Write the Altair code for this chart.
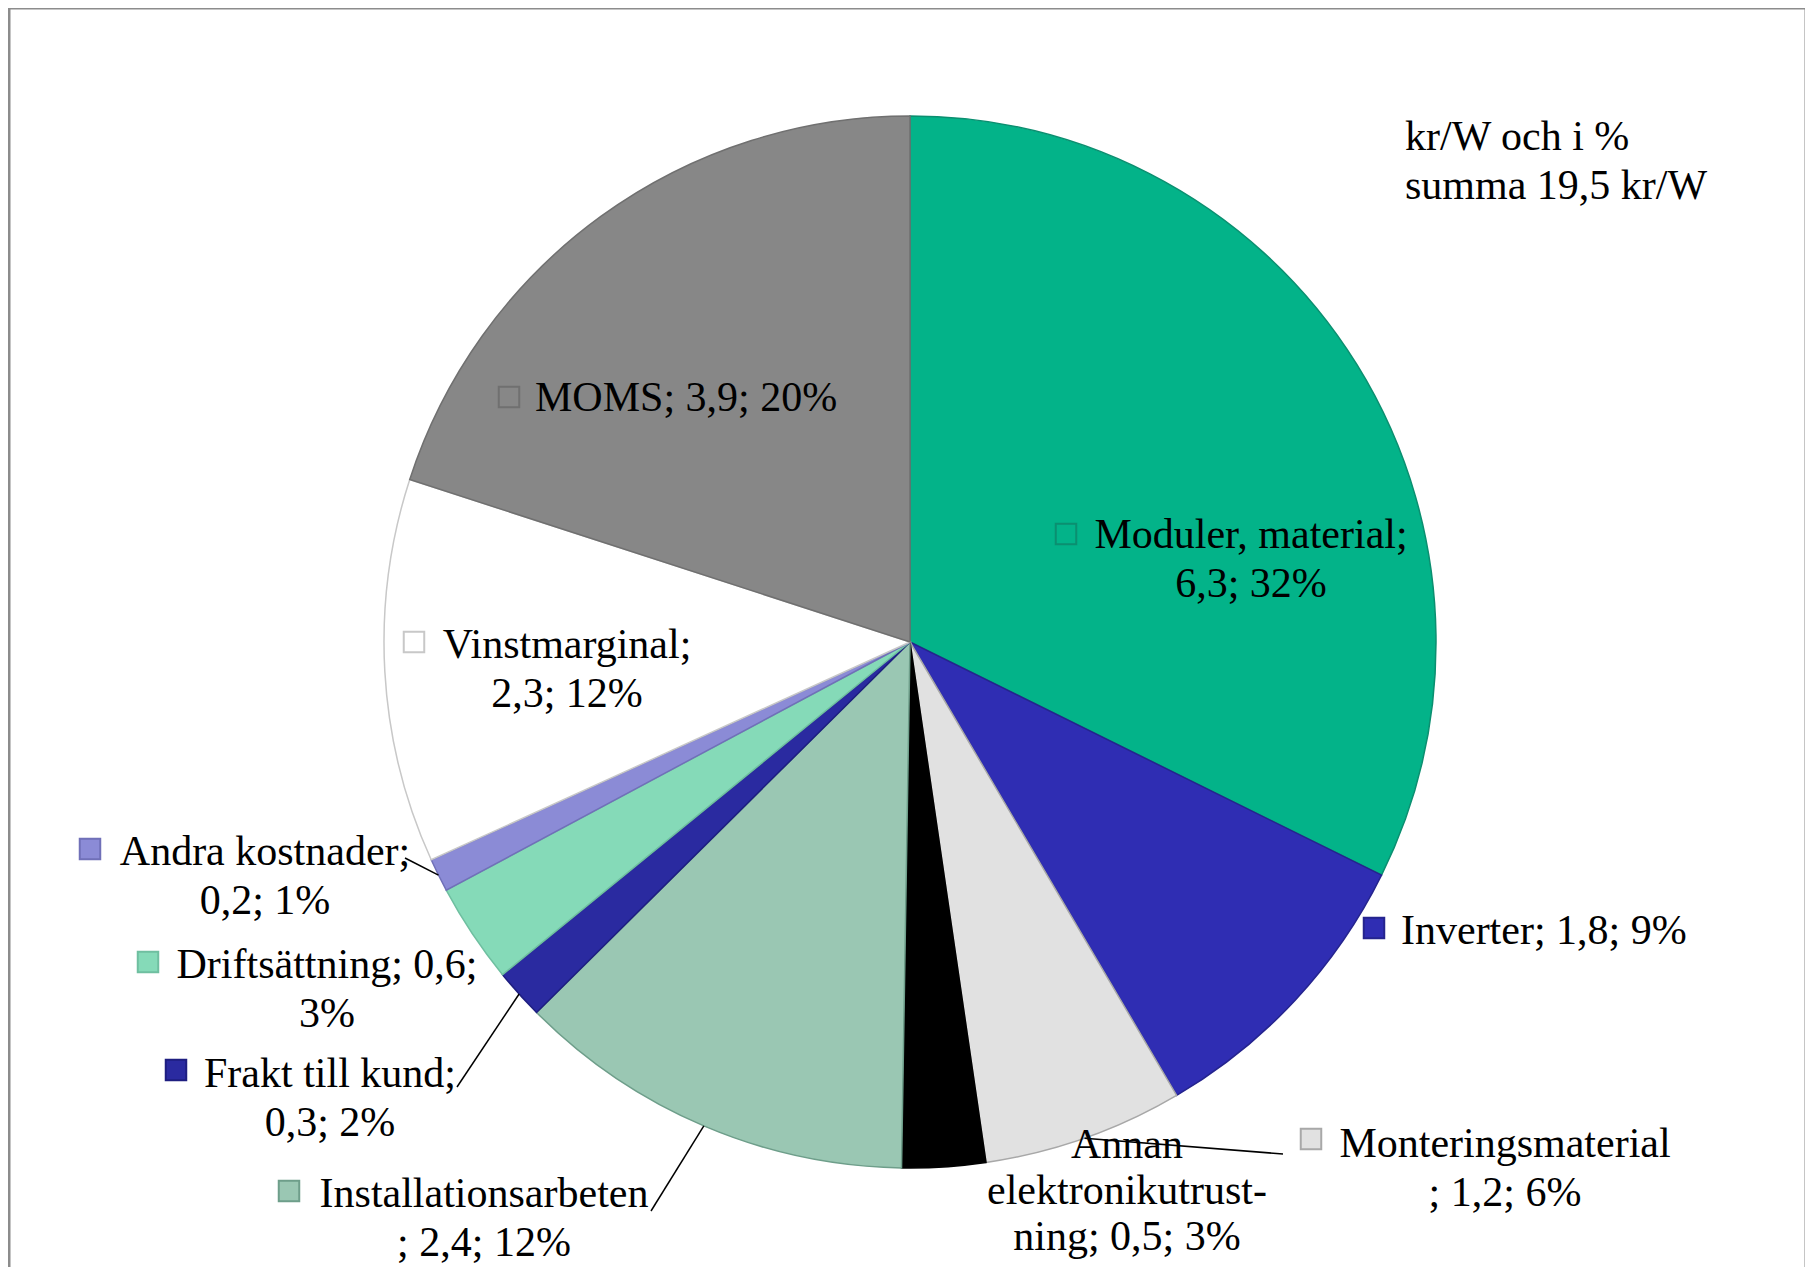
import math
import altair as alt
import pandas as pd

# ---- data ----
categories = ["Moduler, material", "Inverter", "Monteringsmaterial",
              "Annan elektronikutrustning", "Installationsarbeten", "Frakt till kund",
              "Driftsättning", "Andra kostnader", "Vinstmarginal", "MOMS"]
values = [6.3, 1.8, 1.2, 0.5, 2.4, 0.3, 0.6, 0.2, 2.3, 3.9]
percents = [32, 9, 6, 3, 12, 2, 3, 1, 12, 20]
label_texts = [
    "Moduler, material;\n6,3; 32%",
    "Inverter; 1,8; 9%",
    "Monteringsmaterial\n; 1,2; 6%",
    "Annan\nelektronikutrust-\nning; 0,5; 3%",
    "Installationsarbeten\n; 2,4; 12%",
    "Frakt till kund;\n0,3; 2%",
    "Driftsättning; 0,6;\n3%",
    "Andra kostnader;\n0,2; 1%",
    "Vinstmarginal;\n2,3; 12%",
    "MOMS; 3,9; 20%",
]
note_text = "kr/W och i %\nsumma 19,5 kr/W"

# ---- styles / layout ----
fills = ["#03B389", "#2F2DB3", "#E1E1E1", "#000000", "#9AC7B3",
         "#2A2AA0", "#85DAB8", "#8B8BD6", "#FFFFFF", "#878787"]
strokes = ["#0B8F70", "#25248E", "#A8A8A8", "#000000", "#6E9E8A",
           "#1E1E80", "#6FBFA0", "#7070B8", "#C8C8C8", "#707070"]

W, H = 1797, 1259
CX, CY, R = 902, 634, 526
FONT = "Liberation Serif"
FS = 42
LH = 49

# label anchors (layout): x, first-line baseline y, align, line height
label_x = [1243, 1393, 1497, 1119, 476, 322, 319, 257, 559, 527]
label_y = [540, 936, 1149, 1150, 1199, 1079, 970, 857, 650, 403]
label_lh = [49, 49, 49, 46, 49, 49, 49, 49, 49, 49]
label_align = ["center", "left", "center", "center", "center", "center",
               "center", "center", "center", "left"]
marker_x = [1058, 1366, 1303, None, 281, 168, 140, 82, 406, 501]
marker_y = [526, 920, 1131, None, 1183, 1062, 954, 841, 634, 389]
# leader line start points (near label), ends on slice edge computed from data
leader_from = {2: (1275, 1146), 4: (643, 1203), 5: (449, 1079), 7: (397, 850)}

total = sum(values)
cum = 0.0
mids = []
for v in values:
    mids.append((cum + v / 2) / total * 2 * math.pi)
    cum += v

df = pd.DataFrame({"cat": categories, "value": values, "order": list(range(len(values)))})

xs = alt.Scale(domain=[0, W], range=[0, W])
ys = alt.Scale(domain=[0, H], range=[0, H])

pie = alt.Chart(df).mark_arc(strokeWidth=1.5, radius=R).encode(
    theta=alt.Theta("value:Q", stack=True),
    order=alt.Order("order:Q"),
    color=alt.Color("cat:N", scale=alt.Scale(domain=categories, range=fills), legend=None),
    stroke=alt.Stroke("cat:N", scale=alt.Scale(domain=categories, range=strokes), legend=None),
    x=alt.value(CX), y=alt.value(CY),
)

lab_df = pd.DataFrame({"text": label_texts, "x": label_x, "y": label_y,
                       "align": label_align, "lh": label_lh})


def text_layer(d, align, lh=LH):
    return alt.Chart(d).mark_text(
        font=FONT, fontSize=FS, lineHeight=lh, align=align, baseline="alphabetic",
        lineBreak="\n", color="#000000").encode(
        x=alt.X("x:Q", scale=xs, axis=None), y=alt.Y("y:Q", scale=ys, axis=None),
        text="text:N")


labels_c = text_layer(lab_df[(lab_df["align"] == "center") & (lab_df["lh"] == LH)], "center")
labels_c2 = text_layer(lab_df[(lab_df["align"] == "center") & (lab_df["lh"] != LH)], "center", 46)
labels_l = text_layer(lab_df[lab_df["align"] == "left"], "left")

mk = [(marker_x[i], marker_y[i], fills[i], strokes[i]) for i in range(len(categories))
      if marker_x[i] is not None]
mk_df = pd.DataFrame({"x": [m[0] for m in mk], "y": [m[1] for m in mk],
                      "f": [m[2] for m in mk], "s": [m[3] for m in mk]})
markers = alt.Chart(mk_df).mark_square(size=420, opacity=1, strokeWidth=2).encode(
    x=alt.X("x:Q", scale=xs, axis=None), y=alt.Y("y:Q", scale=ys, axis=None),
    fill=alt.Fill("f:N", scale=None), stroke=alt.Stroke("s:N", scale=None))

ld = []
for i, (lx, ly) in leader_from.items():
    ex = CX + R * math.sin(mids[i])
    ey = CY - R * math.cos(mids[i])
    ld.append({"x": lx, "y": ly, "x2": ex, "y2": ey})
lead_df = pd.DataFrame(ld)
leaders = alt.Chart(lead_df).mark_rule(color="#000000", strokeWidth=1.5).encode(
    x=alt.X("x:Q", scale=xs, axis=None), y=alt.Y("y:Q", scale=ys, axis=None),
    x2="x2:Q", y2="y2:Q")

note_df = pd.DataFrame({"text": [note_text], "x": [1397], "y": [142]})
note = text_layer(note_df, "left")

# frame (left / top / right lines)
frame_df = pd.DataFrame({"x": [1, 1, 1798], "y": [0, 0, 0], "x2": [1, 1798, 1798], "y2": [H, 0, H]})
frame = alt.Chart(frame_df).mark_rule(color="#8C8C8C", strokeWidth=3).encode(
    x=alt.X("x:Q", scale=xs, axis=None), y=alt.Y("y:Q", scale=ys, axis=None),
    x2="x2:Q", y2="y2:Q")

chart = alt.layer(frame, pie, leaders, markers, labels_c, labels_c2, labels_l, note).properties(
    width=W, height=H, padding=0, autosize=alt.AutoSizeParams(type="none"),
    background="#FFFFFF",
).configure_view(stroke=None)

chart.save("out.html", embed_options={"renderer": "svg", "actions": False})
